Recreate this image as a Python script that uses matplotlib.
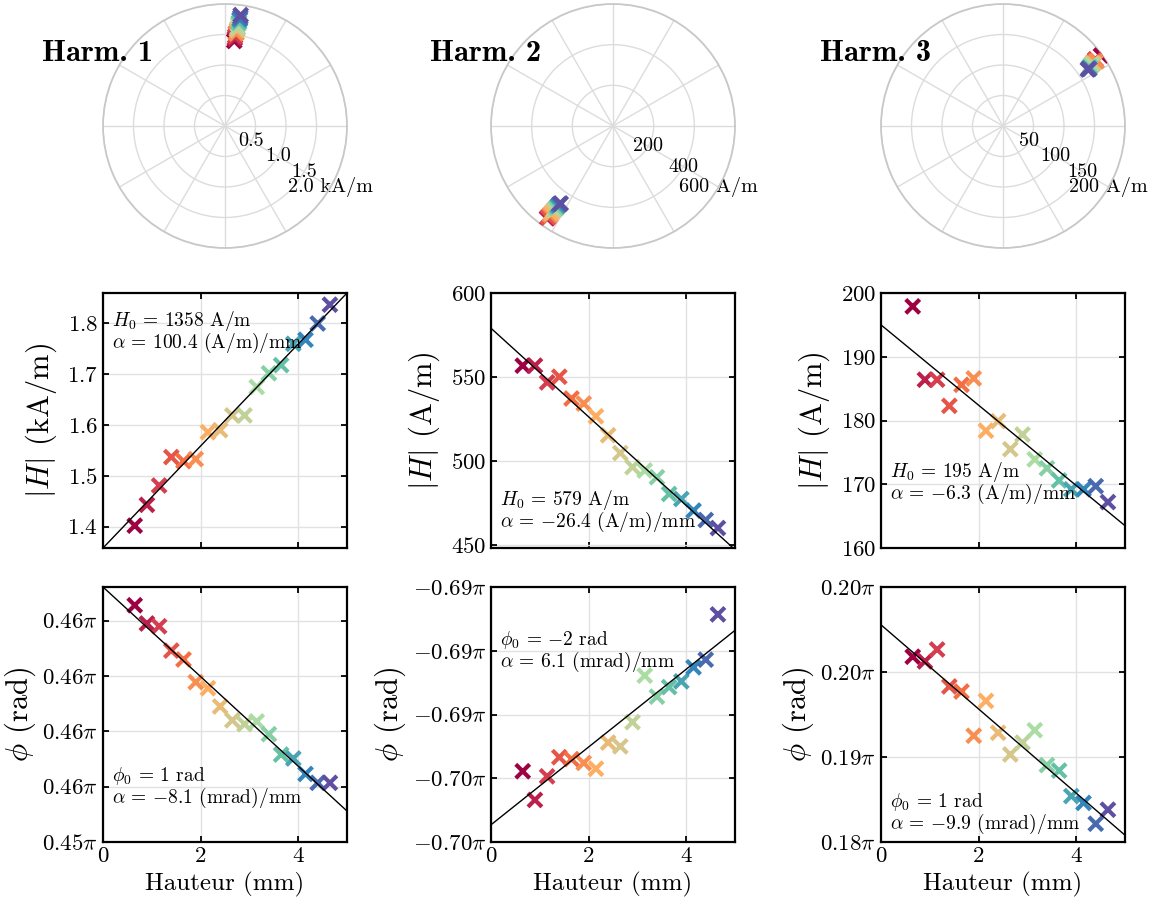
import numpy as np
import matplotlib
matplotlib.use("Agg")
import matplotlib.pyplot as plt
from matplotlib.ticker import FuncFormatter, FixedLocator
from matplotlib.colors import LinearSegmentedColormap

plt.rcParams['font.family'] = 'serif'
plt.rcParams['font.serif'] = ['cmr10']
plt.rcParams['mathtext.fontset'] = 'cm'
plt.rcParams['axes.formatter.use_mathtext'] = True

# ---------------- data ----------------
hauteur = [0.65, 0.90, 1.15, 1.40, 1.65, 1.90, 2.15, 2.40, 2.65,
           2.90, 3.15, 3.40, 3.65, 3.90, 4.15, 4.40, 4.65]

mag_h1 = [1.402, 1.443, 1.481, 1.537, 1.529, 1.533, 1.586, 1.590, 1.619,
          1.619, 1.675, 1.702, 1.718, 1.760, 1.768, 1.800, 1.837]      # kA/m
mag_h2 = [556.7, 556.7, 546.7, 550.1, 537.1, 534.1, 526.5, 515.2, 504.6,
          496.2, 494.2, 490.2, 480.2, 477.2, 470.3, 464.7, 459.9]      # A/m
mag_h3 = [197.9, 186.4, 186.4, 182.3, 185.6, 186.6, 178.4, 179.9, 175.5,
          177.8, 173.9, 172.5, 170.6, 169.2, 169.2, 169.7, 167.2]      # A/m

phase_h1 = [1.4628, 1.4595, 1.4590, 1.4546, 1.4530, 1.4489, 1.4478, 1.4445, 1.4420,
            1.4413, 1.4418, 1.4395, 1.4358, 1.4351, 1.4323, 1.4307, 1.4307]   # rad
phase_h2 = [-2.1889, -2.1934, -2.1897, -2.1867, -2.1870, -2.1876, -2.1885, -2.1844, -2.1850,
            -2.1812, -2.1739, -2.1772, -2.1757, -2.1748, -2.1726, -2.1714, -2.1643]
phase_h3 = [0.6236, 0.6225, 0.6253, 0.6166, 0.6154, 0.6050, 0.6132, 0.6057, 0.6006,
            0.6034, 0.6063, 0.5981, 0.5968, 0.5908, 0.5892, 0.5843, 0.5876]

# linear fits (intercept, slope per mm)
mag_fit_h0 = [1.358, 579.0, 195.0]
mag_fit_alpha = [0.1004, -26.4, -6.3]
phase_fit_phi0 = [1.4661, -2.1973, 0.6311]
phase_fit_alpha = [-0.0081, 0.0061, -0.0099]

mag_texts = [(r'$H_0$ = 1358 A/m', r'$\alpha$ = 100.4 (A/m)/mm'),
             (r'$H_0$ = 579 A/m', r'$\alpha$ = $-$26.4 (A/m)/mm'),
             (r'$H_0$ = 195 A/m', r'$\alpha$ = $-$6.3 (A/m)/mm')]
phase_texts = [(r'$\phi_0$ = 1 rad', r'$\alpha$ = $-$8.1 (mrad)/mm'),
               (r'$\phi_0$ = $-$2 rad', r'$\alpha$ = 6.1 (mrad)/mm'),
               (r'$\phi_0$ = 1 rad', r'$\alpha$ = $-$9.9 (mrad)/mm')]

titles = ['Harm. 1', 'Harm. 2', 'Harm. 3']
polar_rticks = [[0.5, 1.0, 1.5, 2.0], [200, 400, 600], [50, 100, 150, 200]]
polar_rlabels = [['0.5', '1.0', '1.5', '2.0 kA/m'], ['200', '400', '600 A/m'],
                 ['50', '100', '150', '200 A/m']]
polar_rmax = [2.0, 600, 200]

mag_ylabels = [r'$|H|$ (kA/m)', r'$|H|$ (A/m)', r'$|H|$ (A/m)']
mag_ylim = [(1.358, 1.860), (448, 600), (160, 200)]
mag_yticks = [[1.4, 1.5, 1.6, 1.7, 1.8], [450, 500, 550, 600], [160, 170, 180, 190, 200]]
phase_ylim = [(1.42, 1.4661), (-2.20, -2.16), (0.58, 0.64)]
phase_yticks = [[1.42, 1.43, 1.44, 1.45, 1.46], [-2.20, -2.19, -2.18, -2.17, -2.16],
                [0.58, 0.60, 0.62, 0.64]]

# colour anchors for the height colour scale (red -> purple)
colour_anchors = ['#9e0142', '#d53e4f', '#f46d43', '#fdae61', '#d6c78c',
                  '#abdda4', '#66c2a5', '#3288bd', '#5e4fa2']

# baseline position (axes fraction) of the first annotation line
mag_text_y = [0.870, 0.168, 0.278]
phase_text_y = [0.240, 0.774, 0.139]
LINE_STEP = 0.087

mags = [mag_h1, mag_h2, mag_h3]
phases = [phase_h1, phase_h2, phase_h3]

# ---------------- figure ----------------
W, H = 1151, 911
fig = plt.figure(figsize=(W / 100, H / 100), dpi=100)

col_left = [103, 491, 881]
axw = 244
cmap = LinearSegmentedColormap.from_list('spec', colour_anchors)
colors = cmap(np.linspace(0, 1, len(hauteur)))
xs = np.array(hauteur)
xline = np.array([0.0, 5.0])
MS = 100
MLW = 3.0
TXT_FS = 14.0

def fx(px):
    return px / W

def fy_bottom(px_bottom):
    return 1 - px_bottom / H

def style_cart(ax):
    ax.set_xlim(0, 5)
    ax.set_xticks([0, 2, 4])
    ax.grid(True, color='#e2e2e2', lw=1.0)
    ax.set_axisbelow(True)
    for s in ax.spines.values():
        s.set_linewidth(1.6)
    ax.tick_params(direction='in', top=True, right=True, length=4, width=1.3,
                   labelsize=16.5)

def annotate(ax, lines, y0):
    for k, t in enumerate(lines):
        ax.text(0.038, y0 - k * LINE_STEP, t, transform=ax.transAxes, fontsize=TXT_FS,
                va='baseline', ha='left', zorder=5)

for j in range(3):
    # polar
    axp = fig.add_axes([fx(col_left[j]), fy_bottom(248), fx(axw), 244 / H],
                       projection='polar')
    axp.scatter(phases[j], mags[j], c=colors, marker='x', s=MS, linewidths=MLW, zorder=3)
    axp.set_ylim(0, polar_rmax[j])
    axp.set_xticks(np.arange(0, 2 * np.pi, np.pi / 6))
    axp.set_xticklabels([])
    axp.set_yticks(polar_rticks[j])
    axp.set_yticklabels(polar_rlabels[j], fontsize=14.5)
    axp.set_rlabel_position(-30)
    for lab in axp.get_yticklabels():
        lab.set_horizontalalignment('center')
        lab.set_verticalalignment('center')
    axp.grid(True, color='#dcdcdc', lw=1.0)
    axp.spines['polar'].set_color('#c8c8c8')
    axp.spines['polar'].set_linewidth(1.3)
    fig.text(fx(col_left[j] - 61), 1 - 61 / H, titles[j], fontsize=22,
             fontfamily='cmb10', ha='left', va='baseline')

    # magnitude
    axm = fig.add_axes([fx(col_left[j]), fy_bottom(548), fx(axw), 255 / H])
    axm.scatter(xs, mags[j], c=colors, marker='x', s=MS, linewidths=MLW, zorder=3)
    axm.plot(xline, mag_fit_h0[j] + mag_fit_alpha[j] * xline, color='black', lw=1.0, zorder=4)
    style_cart(axm)
    axm.set_ylim(*mag_ylim[j])
    axm.set_yticks(mag_yticks[j])
    axm.set_xticklabels([])
    axm.set_ylabel(mag_ylabels[j], fontsize=22, labelpad=6)
    annotate(axm, mag_texts[j], mag_text_y[j])

    # phase
    axf = fig.add_axes([fx(col_left[j]), fy_bottom(842), fx(axw), 255 / H])
    axf.scatter(xs, phases[j], c=colors, marker='x', s=MS, linewidths=MLW, zorder=3)
    axf.plot(xline, phase_fit_phi0[j] + phase_fit_alpha[j] * xline, color='black', lw=1.0, zorder=4)
    style_cart(axf)
    axf.set_ylim(*phase_ylim[j])
    axf.yaxis.set_major_locator(FixedLocator(phase_yticks[j]))
    axf.yaxis.set_major_formatter(FuncFormatter(lambda v, p: r'$%.2f\pi$' % (v / np.pi)))
    axf.set_ylabel(r'$\phi$ (rad)', fontsize=22, labelpad=3)
    axf.set_xlabel('Hauteur (mm)', fontsize=18)
    annotate(axf, phase_texts[j], phase_text_y[j])

fig.savefig('out.png', dpi=100)
